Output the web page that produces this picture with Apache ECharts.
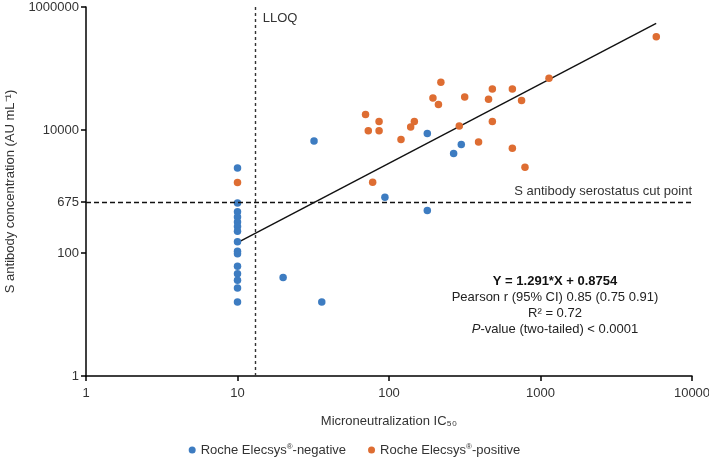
<!DOCTYPE html>
<html>
<head>
<meta charset="utf-8">
<script src="https://cdn.jsdelivr.net/npm/echarts@6/dist/echarts.min.js"></script>
<style>html,body{margin:0;padding:0;background:#fff}#c{width:709px;height:459px}</style>
</head>
<body>
<div id="c"></div>
<script>
// Roche Elecsys-negative
var negIC50 = [10,10,10,10,10,10,10,10,10,10,10,10,10,10,10, 20, 36, 32, 94, 179, 179, 267, 300];
var negSAb  = [2400,650,470,385,320,270,225,152,107,97,61,46,36,27,16, 40, 16, 6600, 810, 490, 8800, 4160, 5830];
// Roche Elecsys-positive
var posIC50 = [10, 70, 73, 86, 86, 78, 120, 139, 147, 195, 212, 220, 291, 316, 390, 454, 481, 481, 652, 652, 750, 1138, 5810, 790];
var posSAb  = [1400, 17950, 9700, 13800, 9700, 1420, 7000, 11150, 13800, 33000, 26100, 59500, 11570, 34300, 6360, 31500, 46300, 13800, 46300, 5070, 30300, 69100, 328600, 2490];
// regression line endpoints (log-log fit)
var fitX = [10, 5800];
var fitY = [147, 542000];
var xTicks = [1, 10, 100, 1000, 10000];
var yTicks = [1, 100, 675, 10000, 1000000];
var lloq = 13;
var cutPoint = 675;

function zip(a, b) { return a.map(function (v, i) { return [v, b[i]]; }); }

var BLUE = '#3D7CC1', ORANGE = '#DE6D32';
var FONT = 'Liberation Sans, Arial, sans-serif';

var chart = echarts.init(document.getElementById('c'));
chart.setOption({
  animation: false,
  textStyle: { fontFamily: FONT },
  grid: { left: 86, right: 17, top: 7, bottom: 83, outerBoundsMode: 'none', containLabel: false },
  legend: {
    top: 438, left: 'center',
    itemWidth: 7, itemHeight: 7, itemGap: 22,
    icon: 'circle',
    data: ['Roche Elecsys®-negative', 'Roche Elecsys®-positive'],
    formatter: function (n) {
      var p = n.split('®');
      return '{a|' + p[0] + '}{s|®}{a|' + p[1] + '}';
    },
    textStyle: {
      color: '#333', fontSize: 13, fontFamily: FONT,
      rich: { a: { fontSize: 13, color: '#333', fontFamily: FONT }, s: { fontSize: 8, color: '#333', verticalAlign: 'top', padding: [0, 0, 6, 0], fontFamily: FONT } }
    }
  },
  xAxis: {
    type: 'log', logBase: 10, min: 1, max: 10000,
    name: 'Microneutralization IC₅₀',
    nameLocation: 'middle', nameGap: 39,
    nameTextStyle: { color: '#333', fontSize: 13, fontFamily: FONT },
    axisLine: { lineStyle: { color: '#000', width: 1.5 } },
    axisTick: { show: true, length: 5, lineStyle: { color: '#000', width: 1.5 }, customValues: xTicks },
    axisLabel: { color: '#333', fontSize: 13, margin: 11, customValues: xTicks, formatter: function (v) { return String(v); } },
    splitLine: { show: false },
    minorTick: { show: false }
  },
  yAxis: {
    type: 'log', logBase: 10, min: 1, max: 1000000,
    name: 'S antibody concentration (AU mL⁻¹)',
    nameLocation: 'middle', nameGap: 69,
    nameTextStyle: { color: '#333', fontSize: 13, fontFamily: FONT },
    axisLine: { show: true, lineStyle: { color: '#000', width: 1.5 } },
    axisTick: { show: true, length: 5, lineStyle: { color: '#000', width: 1.5 }, customValues: yTicks },
    axisLabel: { color: '#333', fontSize: 13, margin: 7, customValues: yTicks, formatter: function (v) { return String(Math.round(v)); } },
    splitLine: { show: false }
  },
  series: [
    {
      name: 'Roche Elecsys®-negative', type: 'scatter',
      data: zip(negIC50, negSAb),
      symbolSize: 7.5, itemStyle: { color: BLUE, opacity: 1 },
      markLine: {
        silent: true, symbol: 'none',
        lineStyle: { color: '#111', width: 1.4, type: [5, 3] },
        label: { show: true, position: 'insideEndTop', formatter: 'S antibody serostatus cut point', color: '#333', fontSize: 13, fontFamily: FONT, distance: [0, 4] },
        data: [{ yAxis: cutPoint }]
      },
      z: 3
    },
    {
      name: 'Roche Elecsys®-positive', type: 'scatter',
      data: zip(posIC50, posSAb),
      symbolSize: 7.5, itemStyle: { color: ORANGE, opacity: 1 },
      markLine: {
        silent: true, symbol: 'none',
        lineStyle: { color: '#333', width: 1.4, type: [3, 3] },
        label: { show: false },
        data: [{ xAxis: lloq }]
      },
      markPoint: {
        silent: true, symbol: 'circle', symbolSize: 0,
        label: { show: true, position: 'right', formatter: 'LLOQ', color: '#333', fontSize: 13, fontFamily: FONT, offset: [3, 11] },
        data: [{ coord: [lloq, 1000000] }]
      },
      z: 3
    },
    {
      name: 'fit', type: 'line',
      data: zip(fitX, fitY),
      symbol: 'none', lineStyle: { color: '#111', width: 1.4 },
      silent: true, z: 2
    }
  ],
  graphic: [{
    type: 'text', x: 555, y: 274,
    style: {
      text: '{b|Y = 1.291*X + 0.8754}\n{n|Pearson r (95% CI) 0.85 (0.75 0.91)}\n{n|R² = 0.72}\n{i|P}{n|-value (two-tailed) < 0.0001}',
      align: 'center', verticalAlign: 'top',
      rich: {
        b: { fontWeight: 'bold', fontSize: 13, lineHeight: 15.7, fill: '#111', fontFamily: FONT, align: 'center' },
        n: { fontSize: 13, lineHeight: 15.7, fill: '#222', fontFamily: FONT, align: 'center' },
        i: { fontSize: 13, lineHeight: 15.7, fontStyle: 'italic', fill: '#222', fontFamily: FONT, align: 'center' }
      }
    }
  }]
});
</script>
</body>
</html>
